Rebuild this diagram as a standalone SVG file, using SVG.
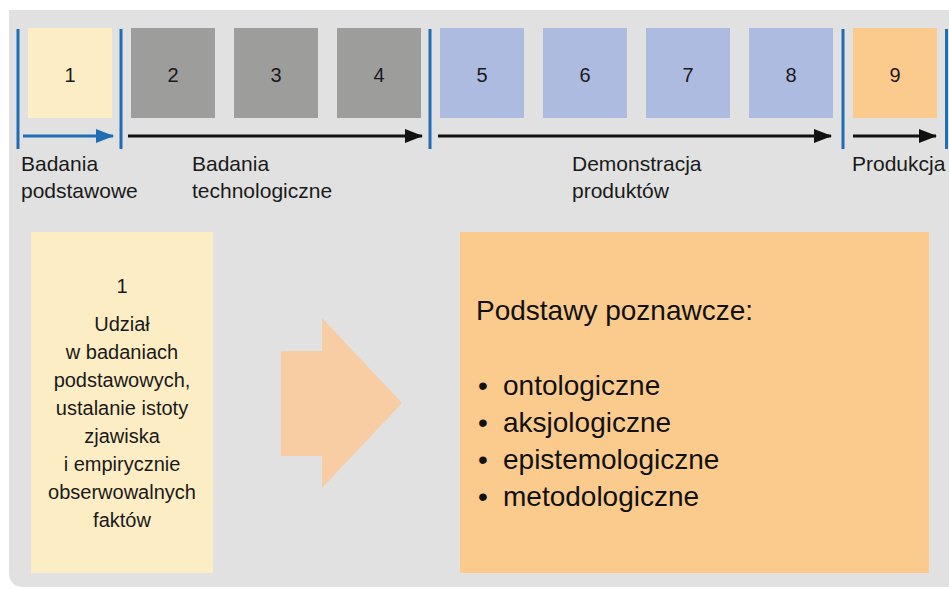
<svg xmlns="http://www.w3.org/2000/svg" width="949" height="590" viewBox="0 0 949 590">
  <style>
    .stage { stroke: none; }
    .s-basic { fill: #fdedc4; }
    .s-tech { fill: #9d9d9c; }
    .s-demo { fill: #adbbe0; }
    .s-prod { fill: #fbcb8e; }
    .num { font-family: "Liberation Sans", Arial, sans-serif; font-size: 20px; fill: #1a1a1a; text-anchor: middle; }
    .lbl { font-family: "Liberation Sans", Arial, sans-serif; font-size: 21px; fill: #1a1a1a; }
    .sep { stroke: #1f6db5; stroke-width: 3; }
    .flow { stroke: #111; stroke-width: 3; fill: none; }
    .body { font-family: "Liberation Sans", Arial, sans-serif; font-size: 20px; fill: #1a1a1a; text-anchor: middle; }
    .big { font-family: "Liberation Sans", Arial, sans-serif; font-size: 28px; fill: #111; }
  </style>
  <defs>
    <marker id="headBlack" markerWidth="18" markerHeight="14" refX="17" refY="7" orient="auto" markerUnits="userSpaceOnUse">
      <path d="M0,0 L18,7 L0,14 Z" fill="#111"/>
    </marker>
    <marker id="headBlue" markerWidth="18" markerHeight="14" refX="17" refY="7" orient="auto" markerUnits="userSpaceOnUse">
      <path d="M0,0 L18,7 L0,14 Z" fill="#1f6db5"/>
    </marker>
  </defs>

  <rect width="949" height="590" fill="#ffffff"/>
  <!-- background panel -->
  <path d="M9,10 H949 V587 H24 Q9,587 9,572 Z" fill="#e1e1e1"/>

  <!-- stage boxes -->
  <g id="stage1"><rect class="stage s-basic" x="28" y="28" width="84" height="90"/><text class="num" x="70" y="82">1</text></g>
  <g id="stage2"><rect class="stage s-tech" x="131" y="28" width="84" height="90"/><text class="num" x="173" y="82">2</text></g>
  <g id="stage3"><rect class="stage s-tech" x="234" y="28" width="84" height="90"/><text class="num" x="276" y="82">3</text></g>
  <g id="stage4"><rect class="stage s-tech" x="337" y="28" width="84" height="90"/><text class="num" x="379" y="82">4</text></g>
  <g id="stage5"><rect class="stage s-demo" x="440" y="28" width="84" height="90"/><text class="num" x="482" y="82">5</text></g>
  <g id="stage6"><rect class="stage s-demo" x="543" y="28" width="84" height="90"/><text class="num" x="585" y="82">6</text></g>
  <g id="stage7"><rect class="stage s-demo" x="646" y="28" width="84" height="90"/><text class="num" x="688" y="82">7</text></g>
  <g id="stage8"><rect class="stage s-demo" x="749" y="28" width="84" height="90"/><text class="num" x="791" y="82">8</text></g>
  <g id="stage9"><rect class="stage s-prod" x="853" y="28" width="84" height="90"/><text class="num" x="895" y="82">9</text></g>

  <!-- phase separators and flow arrows -->
  <g id="connectors">
    <line class="sep" x1="18" y1="29" x2="18" y2="149"/>
    <line class="sep" x1="121" y1="29" x2="121" y2="149"/>
    <line class="sep" x1="430" y1="29" x2="430" y2="149"/>
    <line class="sep" x1="843" y1="29" x2="843" y2="149"/>
    <line class="sep" x1="946.5" y1="29" x2="946.5" y2="149"/>

    <line x1="23" y1="136" x2="113" y2="136" stroke="#1f6db5" stroke-width="3" marker-end="url(#headBlue)"/>
    <line class="flow" x1="128" y1="136" x2="422" y2="136" marker-end="url(#headBlack)"/>
    <line class="flow" x1="438" y1="136" x2="831" y2="136" marker-end="url(#headBlack)"/>
    <line class="flow" x1="853" y1="136" x2="936" y2="136" marker-end="url(#headBlack)"/>

    <polygon points="281,351 322,351 322,318 402,403 322,488 322,456 281,456" fill="#f9cda3"/>
  </g>

  <!-- phase labels -->
  <g id="phase-basic"><text class="lbl" x="21" y="171">Badania</text><text class="lbl" x="21" y="198">podstawowe</text></g>
  <g id="phase-tech"><text class="lbl" x="192" y="171">Badania</text><text class="lbl" x="192" y="198">technologiczne</text></g>
  <g id="phase-demo"><text class="lbl" x="572" y="171">Demonstracja</text><text class="lbl" x="572" y="198">produktów</text></g>
  <g id="phase-prod"><text class="lbl" x="852" y="171">Produkcja</text></g>

  <!-- stage 1 description -->
  <g id="detail1">
    <rect x="31" y="232" width="182" height="341" fill="#fdedc4"/>
    <text class="body" x="122" y="293">1</text>
    <text class="body" x="122" y="331">Udział</text>
    <text class="body" x="122" y="359">w badaniach</text>
    <text class="body" x="122" y="387">podstawowych,</text>
    <text class="body" x="122" y="415">ustalanie istoty</text>
    <text class="body" x="122" y="443">zjawiska</text>
    <text class="body" x="122" y="471">i empirycznie</text>
    <text class="body" x="122" y="499">obserwowalnych</text>
    <text class="body" x="122" y="527">faktów</text>
  </g>

  <!-- cognitive foundations -->
  <g id="foundations">
    <rect x="460" y="232" width="469" height="341" fill="#fbcb8e"/>
    <text class="big" x="476" y="320">Podstawy poznawcze:</text>
    <text class="big" x="478" y="395">•</text><text class="big" x="503" y="395">ontologiczne</text>
    <text class="big" x="478" y="432">•</text><text class="big" x="503" y="432">aksjologiczne</text>
    <text class="big" x="478" y="469">•</text><text class="big" x="503" y="469">epistemologiczne</text>
    <text class="big" x="478" y="506">•</text><text class="big" x="503" y="506">metodologiczne</text>
  </g>
</svg>
